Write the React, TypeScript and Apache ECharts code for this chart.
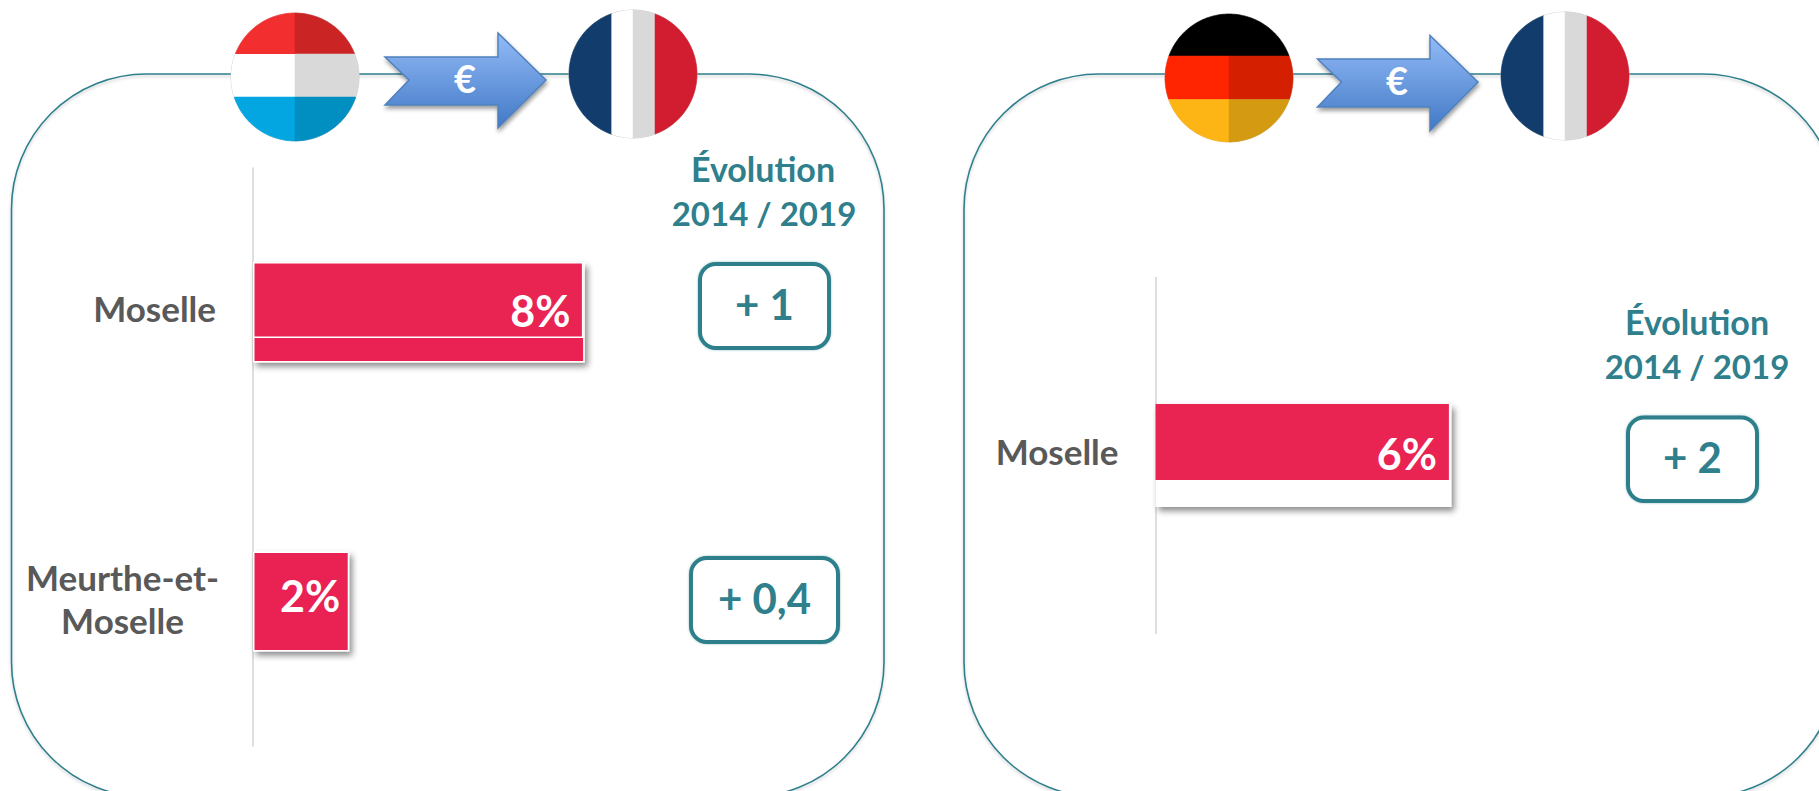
import React, { useEffect, useRef } from "react";
import * as echarts from "echarts";

const FONT = "Lato, Carlito, sans-serif";
const TEAL = "#2f7f8c";
const RED = "#e92453";
const GREY = "#595959";

const leftCategories = ["Moselle", "Meurthe-et-\nMoselle"];
const leftBackValues = [8.03, 2.33];
const leftFrontValues = [8, null];
const rightCategories = ["Moselle"];
const rightBackValues = [6.05];
const rightFrontValues = [6];
const evolutionTitle = ["Évolution", "2014 / 2019"];
const leftEvolution = ["+ 1", "+ 0,4"];
const rightEvolution = ["+ 2"];

type Pt = [number, number];

function clip(poly: Pt[], axis: 0 | 1, limit: number, keepGreater: boolean): Pt[] {
  const out: Pt[] = [];
  const inside = (p: Pt) => (keepGreater ? p[axis] >= limit : p[axis] <= limit);
  for (let i = 0; i < poly.length; i++) {
    const a = poly[i];
    const b = poly[(i + 1) % poly.length];
    const ia = inside(a);
    const ib = inside(b);
    if (ia) out.push(a);
    if (ia !== ib) {
      const t = (limit - a[axis]) / (b[axis] - a[axis]);
      out.push([a[0] + (b[0] - a[0]) * t, a[1] + (b[1] - a[1]) * t]);
    }
  }
  return out;
}

function flag(cx: number, cy: number, r: number, cells: [number, number, number, number, string][]) {
  const circle: Pt[] = [];
  for (let i = 0; i < 180; i++) {
    const a = (i / 180) * Math.PI * 2;
    circle.push([cx + r * Math.cos(a), cy + r * Math.sin(a)]);
  }
  const base = {
    type: "circle",
    z: 4,
    shape: { cx, cy, r },
    style: { fill: "#fff", stroke: "#cfcfcf", lineWidth: 1 },
  };
  return [
    base,
    ...cells.map(([x1, x2, y1, y2, fill]) => {
      let p = clip(circle, 0, x1, true);
      p = clip(p, 0, x2, false);
      p = clip(p, 1, y1, true);
      p = clip(p, 1, y2, false);
      return {
        type: "polygon",
        z: 5,
        shape: { points: p },
        style: fill === "#ffffff" ? { fill } : { fill, stroke: fill, lineWidth: 0.5 },
      };
    }),
  ];
}

function france(cx: number, cy: number, x1: number, x2: number, x3: number) {
  return flag(cx, cy, 64, [
    [0, x1, 0, 999, "#123c6b"],
    [x1, x2, 0, 999, "#ffffff"],
    [x2, x3, 0, 999, "#d9d9d9"],
    [x3, 9999, 0, 999, "#d21d30"],
  ]);
}

function arrow(tail: number, notch: number, shoulder: number, tip: number, top: number, bot: number, hTop: number, hBot: number, midY: number) {
  return {
    type: "polygon",
    z: 6,
    shape: {
      points: [[tail, top], [shoulder, top], [shoulder, hTop], [tip, midY], [shoulder, hBot], [shoulder, bot], [tail, bot], [notch, midY]],
    },
    style: {
      fill: new echarts.graphic.LinearGradient(0, 0, 0, 1, [
        { offset: 0, color: "#93bbf7" },
        { offset: 1, color: "#4279c6" },
      ]),
      stroke: "#4f81bd",
      lineWidth: 1.5,
      shadowBlur: 4,
      shadowOffsetY: 3,
      shadowOffsetX: 1,
      shadowColor: "rgba(0,0,0,0.4)",
    },
  };
}

function label(text: string, x: number, y: number, size: number, fill: string, z = 7) {
  return {
    type: "text",
    z,
    x,
    y,
    style: { text, fill, font: `bold ${size}px ${FONT}`, textAlign: "center", textVerticalAlign: "middle" },
  };
}

function box(text: string, x1: number, y1: number, x2: number, y2: number, size: number) {
  return [
    {
      type: "rect",
      z: 4,
      shape: { x: x1 + 2, y: y1 + 2, width: x2 - x1 - 4, height: y2 - y1 - 4, r: 16 },
      style: { fill: "#fff", stroke: TEAL, lineWidth: 4, shadowBlur: 2, shadowColor: "rgba(47,127,140,0.5)" },
    },
    label(text, (x1 + x2) / 2, (y1 + y2) / 2 - 2, size, TEAL),
  ];
}

function panel(x1: number, x2: number) {
  return {
    type: "rect",
    z: 0,
    shape: { x: x1, y: 74, width: x2 - x1, height: 723, r: 135 },
    style: { fill: "transparent", stroke: TEAL, lineWidth: 1.6, shadowBlur: 3, shadowOffsetY: 2, shadowColor: "rgba(0,0,0,0.2)" },
  };
}

function catFormatter(v: string) {
  if (!v.includes("\n")) return `{one|${v}}`;
  return v
    .split("\n")
    .map((s) => `{wide|${s}}`)
    .concat("{gap| }")
    .join("\n");
}

const labelText = { fontFamily: FONT, fontWeight: "bold", fontSize: 35, color: GREY };
const richLabel = {
  one: { ...labelText, padding: [0, 0, 9, 0] },
  wide: { ...labelText, width: 187, align: "center", lineHeight: 43 },
  gap: { fontSize: 1, lineHeight: 6 },
};

function barShadow() {
  return { shadowBlur: 6, shadowOffsetX: 3, shadowOffsetY: 4, shadowColor: "rgba(0,0,0,0.45)" };
}

const valueLabel = (dy: number, distance: number) => ({
  show: true,
  position: "insideRight",
  distance,
  offset: [0, dy],
  color: "#fff",
  fontFamily: FONT,
  fontWeight: "bold",
  fontSize: 43,
  formatter: (p: any) => `${Math.round(p.value)}%`,
});

export default function App() {
  const ref = useRef<HTMLDivElement>(null);
  useEffect(() => {
    const chart = echarts.init(ref.current!, undefined, { renderer: "svg" });
    const catAxis = (gridIndex: number, data: string[], show: boolean) => ({
      type: "category",
      gridIndex,
      inverse: true,
      data,
      show,
      axisLine: { show: true, lineStyle: { color: "#d4d4d4", width: 1.5 } },
      axisTick: { show: false },
      axisLabel: { margin: 37, align: "right", formatter: catFormatter, rich: richLabel },
    });
    const valAxis = (gridIndex: number) => ({ type: "value", gridIndex, min: 0, max: 10, show: false });
    chart.setOption({
      animation: false,
      backgroundColor: "#fff",
      grid: [
        { left: 253, top: 168, width: 413, height: 578 },
        { left: 253, top: 155.5, width: 413, height: 578 },
        { left: 1155.5, top: 277.5, width: 489, height: 356 },
        { left: 1155.5, top: 264, width: 489, height: 356 },
      ],
      xAxis: [valAxis(0), valAxis(1), valAxis(2), valAxis(3)],
      yAxis: [
        catAxis(0, leftCategories, true),
        catAxis(1, leftCategories, false),
        catAxis(2, rightCategories, true),
        catAxis(3, rightCategories, false),
      ],
      series: [
        {
          type: "bar",
          name: "Luxembourg (fond)",
          xAxisIndex: 0,
          yAxisIndex: 0,
          z: 2,
          barWidth: 100,
          data: leftBackValues.map((value, i) => ({
            value,
            label: i === 0 ? { show: false } : valueLabel(-6, 9),
          })),
          itemStyle: { color: RED, borderColor: "#fff", borderWidth: 1.5, ...barShadow() },
        },
        {
          type: "bar",
          name: "Luxembourg",
          xAxisIndex: 1,
          yAxisIndex: 1,
          z: 3,
          barWidth: 76,
          data: leftFrontValues,
          label: valueLabel(10, 13),
          itemStyle: { color: RED, borderColor: "#fff", borderWidth: 1.5 },
        },
        {
          type: "bar",
          name: "Allemagne (fond)",
          xAxisIndex: 2,
          yAxisIndex: 2,
          z: 2,
          barWidth: 103,
          data: rightBackValues,
          itemStyle: { color: "#fff", ...barShadow() },
        },
        {
          type: "bar",
          name: "Allemagne",
          xAxisIndex: 3,
          yAxisIndex: 3,
          z: 3,
          barWidth: 76,
          data: rightFrontValues,
          label: valueLabel(11, 12),
          itemStyle: { color: RED },
        },
      ],
      graphic: [
        {
          type: "group",
          elements: [
            panel(11.5, 884),
            panel(964, 1838),
            ...flag(295, 77, 64, [
              [0, 295, 0, 54, "#f22e2e"],
              [295, 999, 0, 54, "#cb2424"],
              [0, 295, 54, 97, "#ffffff"],
              [295, 999, 54, 97, "#d9d9d9"],
              [0, 295, 97, 999, "#03a6e0"],
              [295, 999, 97, 999, "#008fc0"],
            ]),
            ...france(633, 74, 611.5, 633, 655),
            arrow(385, 409, 498, 546, 57, 105, 33, 128, 80),
            label("€", 465, 78, 38, "#fff"),
            ...flag(1229, 78, 64, [
              [0, 9999, 0, 56, "#000000"],
              [0, 1229, 56, 99.5, "#ff2500"],
              [1229, 9999, 56, 99.5, "#d41f00"],
              [0, 1229, 99.5, 999, "#fdb515"],
              [1229, 9999, 99.5, 999, "#d49a12"],
            ]),
            ...france(1565, 76, 1543.5, 1565, 1587),
            arrow(1317.5, 1341.5, 1430, 1478, 59, 107, 35.5, 131, 82),
            label("€", 1397, 80, 38, "#fff"),
            label(evolutionTitle[0], 763, 168, 34, TEAL),
            label(evolutionTitle[1], 764, 213, 33, TEAL),
            label(evolutionTitle[0], 1697, 321, 34, TEAL),
            label(evolutionTitle[1], 1697, 366, 33, TEAL),
            ...box(leftEvolution[0], 698, 262, 831, 350, 42),
            ...box(leftEvolution[1], 689, 556, 840, 644, 42),
            ...box(rightEvolution[0], 1626, 415.5, 1759, 503, 42),
          ],
        },
      ],
    });
    return () => chart.dispose();
  }, []);
  return <div ref={ref} style={{ position: "fixed", left: 0, top: 0, width: 1819, height: 791 }} />;
}
